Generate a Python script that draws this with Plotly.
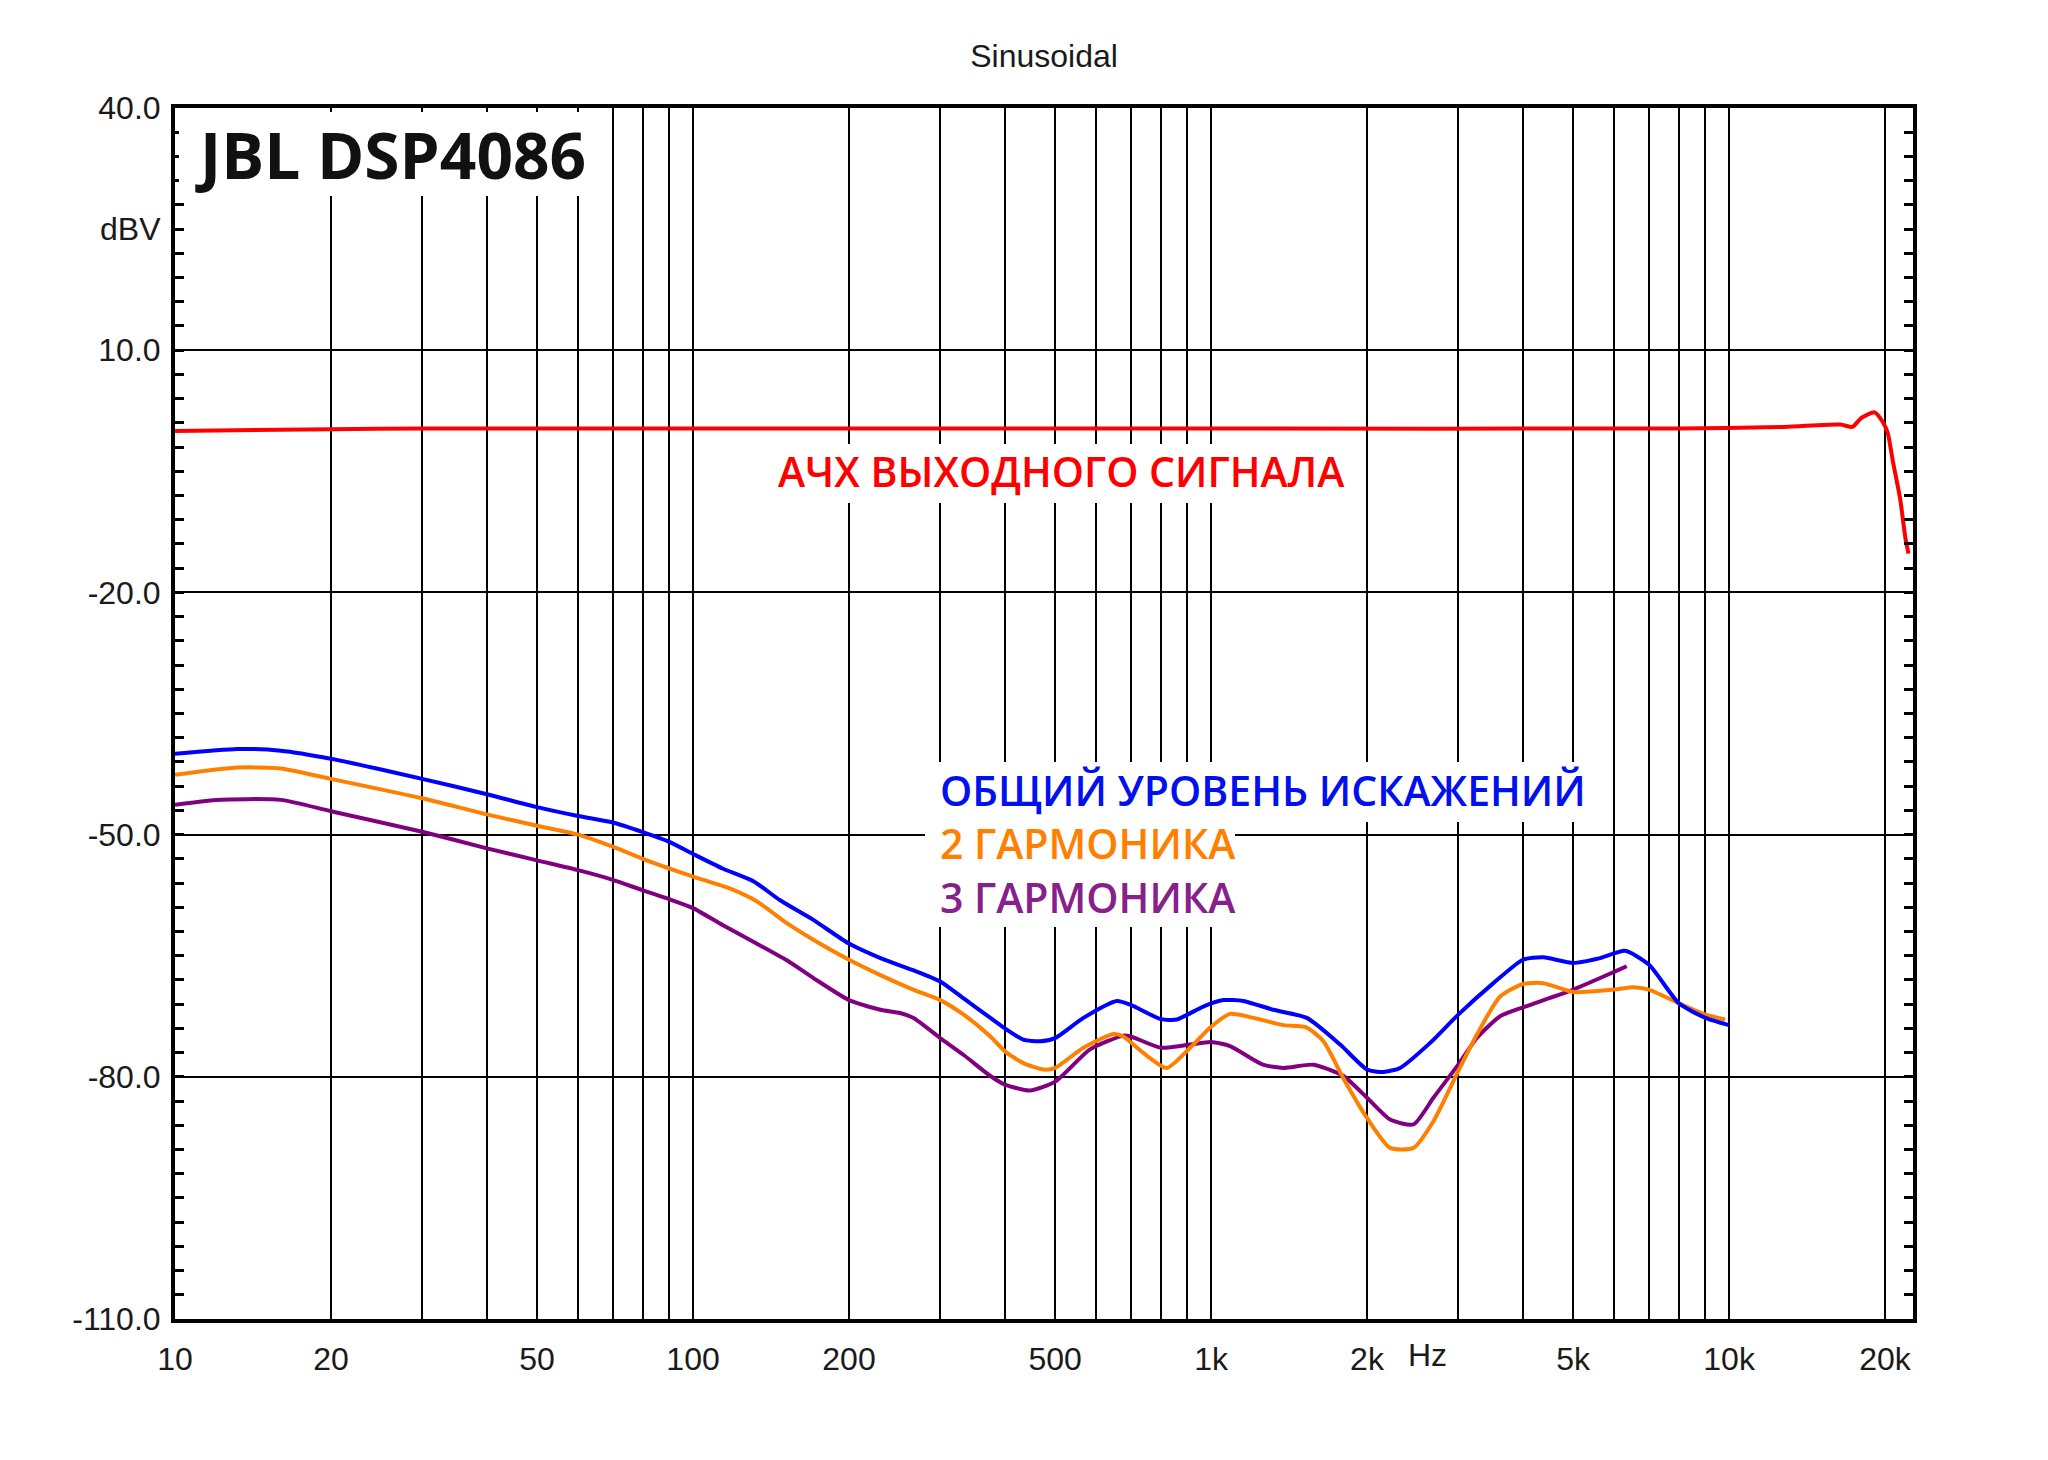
import plotly.graph_objects as go

# ---------------- data ----------------
fr_freq = [10, 20, 30, 100, 1000, 8000, 12800, 16400, 17300, 18000, 19100, 19800, 20250, 20700, 21400, 21900, 22200]
fr_db = [0.0, 0.2, 0.3, 0.3, 0.3, 0.3, 0.5, 0.8, 0.5, 1.6, 2.3, 1.1, -0.3, -3.7, -8.5, -13.3, -15.2]

thd_freq = [10, 13.2, 16, 20, 30, 40, 50, 60, 70, 80, 90, 100, 114, 131, 147, 171, 200, 230, 266, 300,
            333, 375, 400, 434, 468, 500, 567, 658, 700, 800, 859, 966, 1056, 1154, 1319, 1530, 1775,
            2000, 2151, 2317, 2648, 3000, 3508, 4000, 4380, 5000, 5636, 6297, 7000, 8000, 9000, 10000]
thd_db = [-40.0, -39.4, -39.6, -40.6, -43.1, -45.0, -46.6, -47.7, -48.5, -49.7, -50.9, -52.4, -54.2, -55.8, -58.1, -60.6, -63.5, -65.3, -66.8, -68.2,
          -70.3, -72.7, -74.0, -75.4, -75.6, -75.2, -72.7, -70.6, -71.1, -72.85, -72.9, -71.3, -70.5, -70.6, -71.7, -72.7, -76.0,
          -79.1, -79.4, -78.9, -75.8, -72.3, -68.4, -65.5, -65.2, -65.9, -65.3, -64.4, -66.1, -70.9, -72.7, -73.6]

h2_freq = [10, 13.2, 16, 20, 30, 40, 50, 60, 70, 80, 90, 100, 118, 133, 152, 171, 200, 230, 266, 300,
           333, 375, 400, 434, 475, 500, 567, 648, 677, 740, 821, 911, 1000, 1088, 1207, 1379, 1530, 1648,
           1801, 2000, 2216, 2459, 2687, 3000, 3258, 3614, 4000, 4380, 5000, 6000, 6536, 7000, 8000, 9000, 9824]
h2_db = [-42.6, -41.7, -41.8, -43.1, -45.5, -47.5, -48.9, -50.0, -51.5, -53.0, -54.2, -55.2, -56.7, -58.3, -61.0, -63.05, -65.5, -67.4, -69.2, -70.5,
         -72.3, -75.0, -76.85, -78.3, -79.1, -78.9, -76.4, -74.7, -75.0, -77.05, -78.9, -76.4, -73.8, -72.2, -72.7, -73.6, -73.9, -75.6,
         -80.2, -85.1, -88.8, -88.8, -85.5, -79.3, -74.8, -70.05, -68.5, -68.4, -69.5, -69.2, -68.9, -69.2, -70.9, -72.3, -72.9]

h3_freq = [10, 12, 16, 20, 30, 40, 50, 60, 70, 80, 90, 100, 114, 131, 152, 171, 200, 230, 251, 266, 300,
           333, 375, 400, 447, 500, 584, 677, 700, 800, 911, 1000, 1088, 1259, 1379, 1576, 1801, 2000,
           2216, 2459, 2687, 3000, 3258, 3614, 4000, 5000, 6000, 6344]
h3_db = [-46.3, -45.7, -45.7, -47.1, -49.65, -51.7, -53.2, -54.4, -55.6, -56.9, -58.0, -59.1, -61.2, -63.3, -65.6, -67.8, -70.5, -71.7, -72.1, -72.7, -75.2,
         -77.3, -79.9, -80.96, -81.7, -80.6, -76.6, -74.9, -75.0, -76.4, -76.0, -75.7, -76.2, -78.5, -78.9, -78.5, -79.9, -82.6,
         -85.3, -85.9, -82.6, -78.5, -75.2, -72.5, -71.4, -69.2, -67.0, -66.3]

x_tickvals = [10, 20, 50, 100, 200, 500, 1000, 2000, 5000, 10000, 20000]
x_ticktext = ["10", "20", "50", "100", "200", "500", "1k", "2k", "5k", "10k", "20k"]
x_minor = [30, 40, 60, 70, 80, 90, 300, 400, 600, 700, 800, 900,
           3000, 4000, 6000, 7000, 8000, 9000]
y_tickvals = [40, 10, -20, -50, -80, -110]
y_ticktext = ["40.0", "10.0", "-20.0", "-50.0", "-80.0", "-110.0"]

# ---------------- figure ----------------
fig = go.Figure()
line_kw = dict(shape="spline", smoothing=0.6)
fig.add_trace(go.Scatter(x=fr_freq, y=fr_db, mode="lines", line=dict(color="#ff0000", width=4, **line_kw)))
fig.add_trace(go.Scatter(x=h3_freq, y=h3_db, mode="lines", line=dict(color="#800080", width=4, **line_kw)))
fig.add_trace(go.Scatter(x=h2_freq, y=h2_db, mode="lines", line=dict(color="#ff8000", width=4, **line_kw)))
fig.add_trace(go.Scatter(x=thd_freq, y=thd_db, mode="lines", line=dict(color="#0000ff", width=4, **line_kw)))

tick_font = dict(family="Liberation Sans, Arial, sans-serif", size=32, color="#1a1a1a")

fig.update_layout(
    width=2048, height=1460,
    paper_bgcolor="white", plot_bgcolor="white",
    margin=dict(l=167, r=143, t=100, b=149),
    showlegend=False,
    title=dict(text="Sinusoidal", x=0.5, xref="paper", xanchor="center",
               y=1 - 48 / 1460, yanchor="middle", font=tick_font),
    xaxis=dict(type="log", range=[1, 4.355], tickvals=x_tickvals, ticktext=x_ticktext,
               showgrid=True, gridcolor="black", gridwidth=2,
               minor=dict(tickvals=x_minor, showgrid=True, gridcolor="black", gridwidth=2, ticks=""),
               ticks="", showline=True, linecolor="black", linewidth=4, mirror=True,
               tickfont=tick_font, ticklabelstandoff=9, zeroline=False),
    yaxis=dict(range=[-110, 40], tickvals=y_tickvals, ticktext=y_ticktext,
               showgrid=True, gridcolor="black", gridwidth=2,
               ticks="inside", ticklen=9, tickwidth=3, tickcolor="black",
               minor=dict(dtick=3, tick0=40, ticks="inside", ticklen=9, tickwidth=3, tickcolor="black", showgrid=False),
               showline=True, linecolor="black", linewidth=4, mirror="allticks",
               tickfont=tick_font, ticklabelstandoff=4, zeroline=False),
)

# white patches behind the labels (they cut the gridlines), paper coords of the plot area
PX0, PX1, PY0, PY1 = 175.0, 1913.0, 108.0, 1319.0


def patch(X0, X1, Y0, Y1):
    fig.add_shape(type="rect", xref="paper", yref="paper",
                  x0=(X0 - PX0) / (PX1 - PX0), x1=(X1 - PX0) / (PX1 - PX0),
                  y0=1 - (Y1 - PY0) / (PY1 - PY0), y1=1 - (Y0 - PY0) / (PY1 - PY0),
                  fillcolor="white", line=dict(width=0), layer="above")


patch(179, 595, 112, 196)     # model name
patch(775, 1345, 444, 503)    # frequency response label
patch(925, 1585, 762, 822)    # total distortion label
patch(925, 1235, 822, 872)    # 2nd harmonic label
patch(925, 1235, 872, 927)    # 3rd harmonic label

lab_font = "Open Sans, Noto Sans, sans-serif"
fig.add_annotation(text="JBL DSP4086", xref="x", yref="y", x=1.035, y=34.3, xanchor="left", yanchor="middle",
                   showarrow=False, font=dict(family=lab_font, size=64, color="#111111", weight="bold"))
fig.add_annotation(text="АЧХ ВЫХОДНОГО СИГНАЛА", xref="x", yref="y", x=2.711, y=-5.0, xanchor="center", yanchor="middle",
                   showarrow=False, font=dict(family=lab_font, size=41, color="#ff0000", weight=600))
legend_text = ("<span style='color:#0010ee'>ОБЩИЙ УРОВЕНЬ ИСКАЖЕНИЙ</span><br>"
               "<span style='color:#ff7f00'>2 ГАРМОНИКА</span><br>"
               "<span style='color:#86208a'>3 ГАРМОНИКА</span>")
fig.add_annotation(text=legend_text, xref="x", yref="y", x=2.472, y=-51.1, xanchor="left", yanchor="middle",
                   align="left", showarrow=False,
                   font=dict(family=lab_font, size=41, color="#0010ee", weight=600))
fig.add_annotation(text="dBV", xref="paper", yref="y", x=0, y=25, xanchor="right", yanchor="middle", xshift=-12,
                   showarrow=False, font=tick_font)
fig.add_annotation(text="Hz", xref="paper", yref="paper", x=(1427 - 175) / 1738, y=-(1355 - 1319) / 1211,
                   xanchor="center", yanchor="middle", showarrow=False, font=tick_font)

fig.write_html("out.html")
